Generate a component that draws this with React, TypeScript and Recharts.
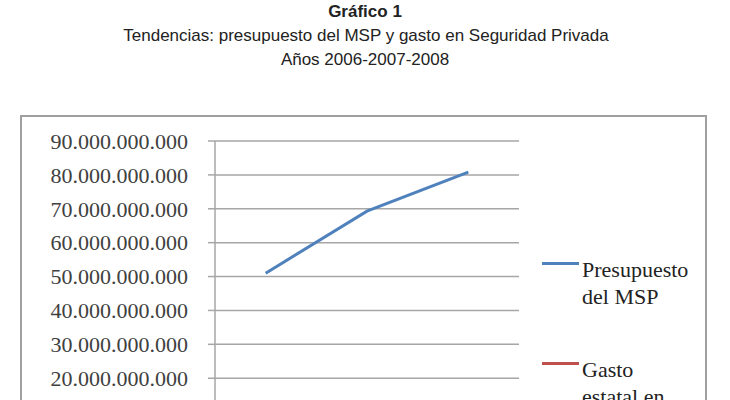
import { CartesianGrid, Line, LineChart, XAxis, YAxis } from "recharts";

// values
const YEARS = ["2006", "2007", "2008"];
const PRESUPUESTO_MSP = [51000000000, 69300000000, 80800000000];
const GASTO_SEG_PRIVADA = [2500000000, 3200000000, 4000000000];
const Y_TICKS = [
  0, 10000000000, 20000000000, 30000000000, 40000000000, 50000000000, 60000000000, 70000000000,
  80000000000, 90000000000,
];
const TITLES = [
  "Gráfico 1",
  "Tendencias: presupuesto del MSP y gasto en Seguridad Privada",
  "Años 2006-2007-2008",
];
const SERIES = [
  { key: "msp", name: "Presupuesto del MSP", color: "#4f81bd" },
  { key: "gasto", name: "Gasto estatal en Seguridad Privada", color: "#c0504d" },
];

const data = YEARS.map((y, i) => ({
  year: y,
  msp: PRESUPUESTO_MSP[i],
  gasto: GASTO_SEG_PRIVADA[i],
}));

const fmtDots = (v: number) => String(Math.round(v)).replace(/\B(?=(\d{3})+(?!\d))/g, ".");

const grid = "#a6a6a6";
const serif = '"Liberation Serif", "Times New Roman", serif';

export default function App() {
  return (
    <div style={{ position: "absolute", left: 0, top: 0, width: 730, height: 400, overflow: "hidden", background: "#fff" }}>
      <svg width={730} height={80} style={{ position: "absolute", left: 0, top: 0 }}>
        <text x={365} y={17} textAnchor="middle" fontFamily="Liberation Sans, Arial" fontSize={17} fontWeight="bold" fill="#222">
          {TITLES[0]}
        </text>
        <text x={366} y={41} textAnchor="middle" fontFamily="Liberation Sans, Arial" fontSize={17} fill="#222">
          {TITLES[1]}
        </text>
        <text x={365} y={65} textAnchor="middle" fontFamily="Liberation Sans, Arial" fontSize={17} fill="#222">
          {TITLES[2]}
        </text>
      </svg>

      {/* chart frame */}
      <div
        style={{
          position: "absolute",
          left: 20,
          top: 115,
          width: 687,
          height: 380,
          border: "2px solid #a0a0a0",
          boxSizing: "border-box",
        }}
      />

      <div style={{ position: "absolute", left: 0, top: 0 }}>
        <LineChart width={730} height={520} data={data} margin={{ top: 141, right: 211, left: 20, bottom: 44 }}>
          <CartesianGrid vertical={false} stroke={grid} strokeWidth={1.5} />
          <XAxis
            dataKey="year"
            scale="band"
            height={30}
            stroke={grid}
            strokeWidth={1.5}
            tick={{ fill: "#404040", fontSize: 22, fontFamily: serif }}
          />
          <YAxis
            width={195}
            domain={[0, 90000000000]}
            ticks={Y_TICKS}
            interval={0}
            tickSize={7}
            tickMargin={20}
            stroke={grid}
            strokeWidth={1.5}
            tickFormatter={fmtDots}
            tick={{ fill: "#404040", fontSize: 22, fontFamily: serif }}
          />
          {SERIES.map((s) => (
            <Line
              key={s.key}
              type="linear"
              dataKey={s.key}
              name={s.name}
              stroke={s.color}
              strokeWidth={3}
              dot={false}
              isAnimationActive={false}
            />
          ))}
        </LineChart>
      </div>

      {/* legend */}
      {SERIES.map((s, i) => (
        <div key={s.key} style={{ position: "absolute", left: 542, top: i === 0 ? 256 : 356 }}>
          <div
            style={{
              position: "absolute",
              left: 0,
              top: 6,
              width: 37,
              height: 3,
              background: s.color,
            }}
          />
          <div
            style={{
              position: "absolute",
              left: 40,
              top: 0,
              width: 110,
              fontFamily: serif,
              fontSize: 22,
              lineHeight: "27px",
              color: "#222",
            }}
          >
            {s.name}
          </div>
        </div>
      ))}
    </div>
  );
}
